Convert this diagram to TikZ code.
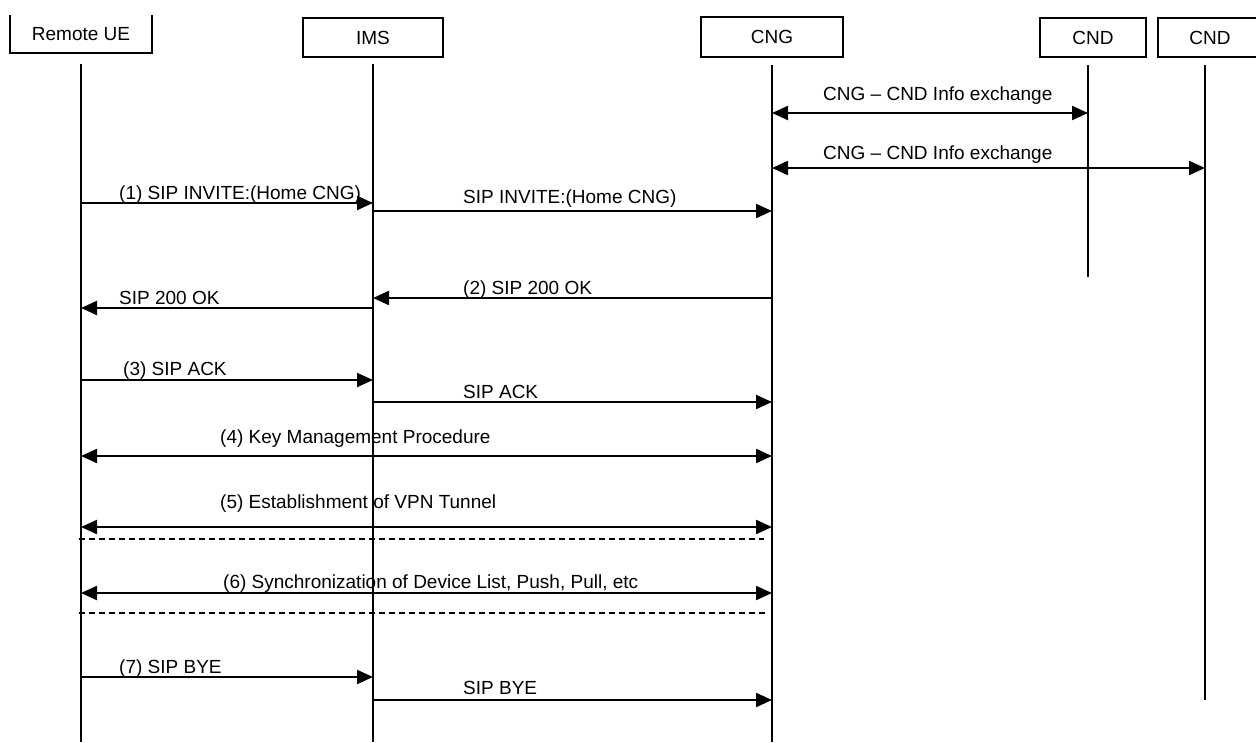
\documentclass[tikz,border=0pt]{standalone}
\usepackage{fontspec}
\setmainfont{Liberation Sans}
\usetikzlibrary{arrows.meta}
\tikzset{
  txt/.style={font=\fontsize{19}{22}\selectfont},
  actor/.style={draw, line width=1.8pt, inner sep=0pt, txt},
  life/.style={line width=1.1pt},
  msg/.style={line width=2.2pt, -{Triangle[length=16pt,width=14pt]}},
  bimsg/.style={line width=2.2pt, {Triangle[length=16pt,width=14pt]}-{Triangle[length=16pt,width=14pt]}},
  lbl/.style={anchor=base west, inner sep=0pt, txt},
  sepline/.style={line width=1.2pt, dash pattern=on 6pt off 4pt},
}
\begin{document}
\begin{tikzpicture}[x=1pt,y=-1pt]
\useasboundingbox (0,0) rectangle (1256,742);
% actors
\node[inner sep=0pt, minimum width=142pt, minimum height=38pt, txt] (ue) at (81,34) {Remote UE};
\draw[line width=1.8pt] (ue.north west) -- (ue.south west) -- (ue.south east) -- (ue.north east);
\node[actor, minimum width=140pt, minimum height=39pt] (ims) at (373,37.5) {IMS};
\node[actor, minimum width=142pt, minimum height=40pt] (cng) at (772,37) {CNG};
\node[actor, minimum width=106pt, minimum height=39pt] (cndA) at (1093,37.5) {CND};
\node[actor, minimum width=104pt, minimum height=39pt] (cndB) at (1210,37.5) {CND};
% lifelines
\coordinate (ueL) at (81,64);   \coordinate (ueE) at (81,742);
\coordinate (imsL) at (373,64); \coordinate (imsE) at (373,742);
\coordinate (cngL) at (772,65); \coordinate (cngE) at (772,742);
\coordinate (cndAL) at (1088,65); \coordinate (cndAE) at (1088,277);
\coordinate (cndBL) at (1205,65); \coordinate (cndBE) at (1205,700);
\draw[life] (ueL) -- (ueE);
\draw[life] (imsL) -- (imsE);
\draw[life] (cngL) -- (cngE);
\draw[life] (cndAL) -- (cndAE);
\draw[life] (cndBL) -- (cndBE);
% rows
\coordinate (r0a) at (0,113);
\coordinate (r0b) at (0,168);
\coordinate (r1) at (0,203);
\coordinate (r1b) at (0,211);
\coordinate (r2) at (0,298);
\coordinate (r2b) at (0,308);
\coordinate (r3) at (0,380);
\coordinate (r3b) at (0,402);
\coordinate (r4) at (0,456);
\coordinate (r5) at (0,527);
\coordinate (r6) at (0,593);
\coordinate (r7) at (0,677);
\coordinate (r7b) at (0,700);
% messages
\draw[bimsg] (cngL |- r0a) -- (cndAL |- r0a);
\node[lbl] (l0a) at (823,100.6) {CNG -- CND Info exchange};
\draw[bimsg] (cngL |- r0b) -- (cndBL |- r0b);
\node[lbl] (l0b) at (823,159.6) {CNG -- CND Info exchange};

\draw[msg] (ueL |- r1) -- (imsL |- r1);
\node[lbl] (l1) at (119,199.6) {(1) SIP INVITE:(Home CNG)};
\draw[msg] (imsL |- r1b) -- (cngL |- r1b);
\node[lbl] (l1b) at (463,203.6) {SIP INVITE:(Home CNG)};

\draw[msg] (cngL |- r2) -- (imsL |- r2);
\node[lbl] (l2) at (463,294.6) {(2) SIP 200 OK};
\draw[msg] (imsL |- r2b) -- (ueL |- r2b);
\node[lbl] (l2b) at (119,304.6) {SIP 200 OK};

\draw[msg] (ueL |- r3) -- (imsL |- r3);
\node[lbl] (l3) at (123,375.6) {(3) SIP ACK};
\draw[msg] (imsL |- r3b) -- (cngL |- r3b);
\node[lbl] (l3b) at (463,398.6) {SIP ACK};

\draw[bimsg] (ueL |- r4) -- (cngL |- r4);
\node[lbl] (l4) at (220,443.6) {(4) Key Management Procedure};

\draw[bimsg] (ueL |- r5) -- (cngL |- r5);
\node[lbl] (l5) at (220,508.6) {(5) Establishment of VPN Tunnel};

\coordinate (d1a) at (79,539); \coordinate (d1b) at (764,539);
\draw[sepline] (d1a) -- (d1b);

\draw[bimsg] (ueL |- r6) -- (cngL |- r6);
\node[lbl] (l6) at (223,588.6) {(6) Synchronization of Device List, Push, Pull, etc};

\coordinate (d2a) at (79,613); \coordinate (d2b) at (767,613);
\draw[sepline] (d2a) -- (d2b);

\draw[msg] (ueL |- r7) -- (imsL |- r7);
\node[lbl] (l7) at (119,673.6) {(7) SIP BYE};
\draw[msg] (imsL |- r7b) -- (cngL |- r7b);
\node[lbl] (l7b) at (463,694.6) {SIP BYE};
\end{tikzpicture}
\end{document}
